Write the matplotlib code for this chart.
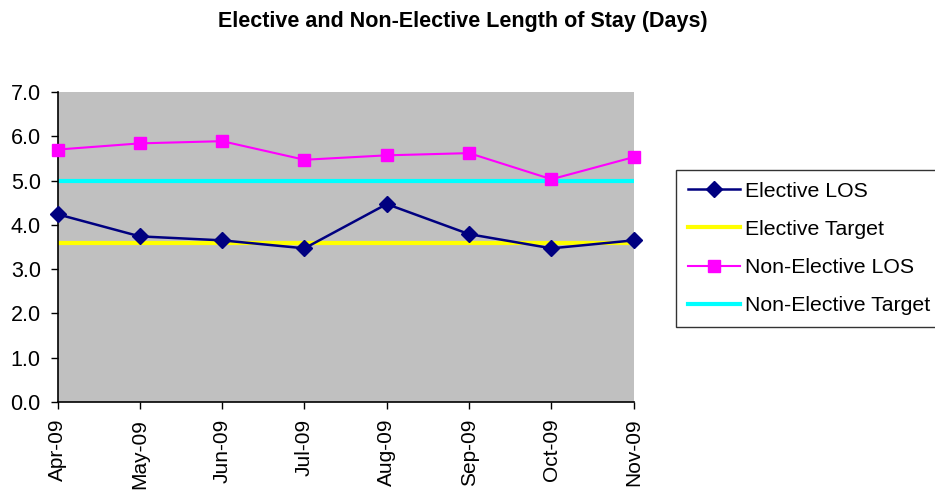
import numpy as np
import matplotlib.pyplot as plt

plt.rcParams['font.family'] = ['Liberation Sans', 'DejaVu Sans']

# data
months = ['Apr-09', 'May-09', 'Jun-09', 'Jul-09', 'Aug-09', 'Sep-09', 'Oct-09', 'Nov-09']
elective_los = [4.24, 3.74, 3.65, 3.47, 4.47, 3.79, 3.47, 3.65]
elective_target = [3.6, 3.6, 3.6, 3.6, 3.6, 3.6, 3.6, 3.6]
non_elective_los = [5.70, 5.84, 5.89, 5.47, 5.57, 5.62, 5.03, 5.53]
non_elective_target = [5.0, 5.0, 5.0, 5.0, 5.0, 5.0, 5.0, 5.0]

fig = plt.figure(figsize=(9.35, 4.91), dpi=100)
ax = fig.add_axes([0.0615, 0.1813, 0.6163, 0.6313])
ax.set_facecolor('#c0c0c0')

x = np.arange(len(months))
ax.plot(x, elective_los, color='#000080', lw=1.8, marker='D', ms=8,
        label='Elective LOS', clip_on=False, zorder=3)
ax.plot(x, elective_target, color='#ffff00', lw=3, label='Elective Target', zorder=2)
ax.plot(x, non_elective_los, color='#ff00ff', lw=1.5, marker='s', ms=8.5,
        label='Non-Elective LOS', clip_on=False, zorder=3)
ax.plot(x, non_elective_target, color='#00ffff', lw=3, label='Non-Elective Target', zorder=2)

ax.set_xlim(0, len(months) - 1)
ax.set_ylim(0, 7)
yt = np.arange(0, 7.1, 1.0)
ax.set_yticks(yt)
ax.set_yticklabels(['{:.1f}'.format(v) for v in yt], fontsize=15.5)
ax.set_xticks(x)
ax.set_xticklabels(months, rotation=90, fontsize=15)
ax.tick_params(direction='out', length=5, width=1, color='black')
ax.tick_params(axis='x', pad=7)
ax.tick_params(axis='y', pad=7)

for s in ['top', 'right']:
    ax.spines[s].set_visible(False)
for s in ['left', 'bottom']:
    ax.spines[s].set_color('black')
    ax.spines[s].set_linewidth(1.2)

fig.text(0.495, 0.957, 'Elective and Non-Elective Length of Stay (Days)',
         ha='center', va='center', fontsize=15.5, fontweight='bold')

leg = fig.legend(loc='upper left', bbox_to_anchor=(676 / 935, 1 - 170 / 491),
                 fontsize=15.3, frameon=True, fancybox=False, edgecolor='black',
                 handlelength=2.45, labelspacing=0.9, borderpad=0.55,
                 handletextpad=0.25, borderaxespad=0)
leg.get_frame().set_linewidth(1.0)

fig.savefig('out.png', dpi=100)
